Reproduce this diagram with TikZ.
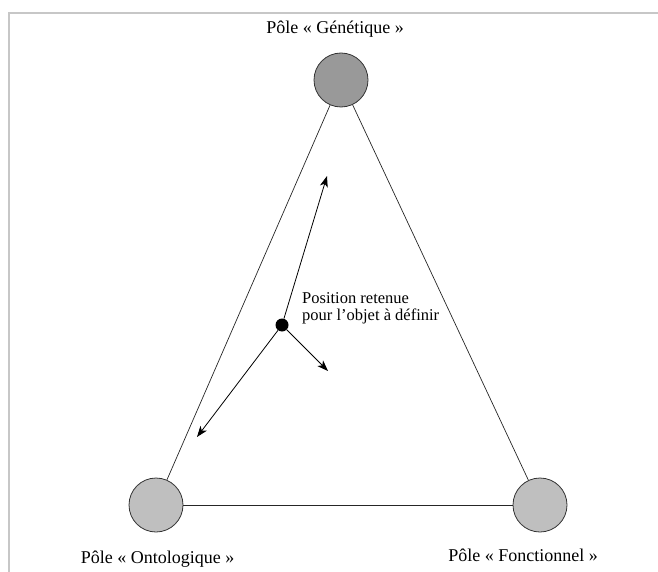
\documentclass[tikz,border=0pt]{standalone}
\usepackage{fontspec}
\setmainfont{Liberation Serif}
\usetikzlibrary{arrows.meta}
\begin{document}
\begin{tikzpicture}[x=1bp,y=-1bp,
  pole/.style={circle,draw=black!80,line width=0.8bp,minimum size=54bp,inner sep=0pt},
  lbl/.style={anchor=base,font=\fontsize{18bp}{20bp}\selectfont,inner sep=0pt},
  edge/.style={line width=0.7bp,draw=black!85},
  arr/.style={line width=0.8bp,-{Stealth[length=11bp,width=8bp,inset=3bp]}}]
\useasboundingbox (0,0) rectangle (658,572);
\draw[line width=2bp,draw=black!22] (9,572) -- (9,13) -- (658,13);
\node[pole,fill=black!40] (G) at (341,80) {};
\node[pole,fill=black!25] (O) at (156,505) {};
\node[pole,fill=black!25] (F) at (540,505) {};
\node[lbl] (lG) at (335,34) {Pôle « Génétique »};
\node[lbl] (lO) at (157.5,563) {Pôle « Ontologique »};
\node[lbl] (lF) at (523,561) {Pôle « Fonctionnel »};
\draw[edge] (G) -- (O);
\draw[edge] (G) -- (F);
\draw[edge] (O) -- (F);
\node[circle,fill=black,minimum size=13bp,inner sep=0pt] (P) at (282,325) {};
\coordinate (t1) at (327,176);
\coordinate (t2) at (197,437);
\coordinate (t3) at (328,371);
\draw[arr] (P) -- (t1);
\draw[arr] (P) -- (t2);
\draw[arr] (P) -- (t3);
\node[anchor=base west,align=left,inner sep=0pt,font=\fontsize{16.5bp}{16.5bp}\selectfont] (txt) at (302,320) {Position retenue\\pour l’objet à définir};
\end{tikzpicture}
\end{document}
